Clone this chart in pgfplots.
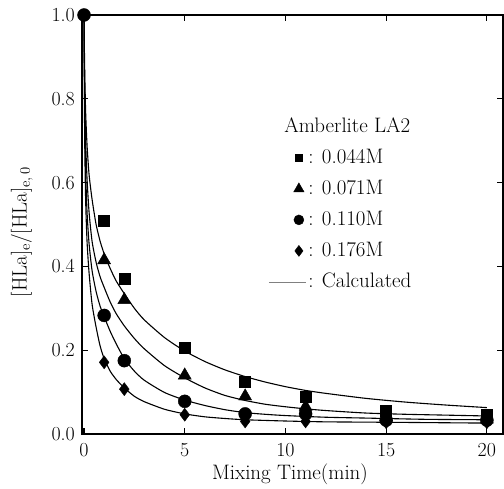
\documentclass[border=0pt]{standalone}
\usepackage{pgfplots}
\pgfplotsset{compat=1.18}
\pgfplotsset{
  markleg/.style={legend image code/.code={\draw[##1] plot coordinates {(0bp,0bp)};}},
  lineleg/.style={legend image code/.code={\draw[gray, line width=0.8bp] (-30bp,0bp) -- (7bp,0bp);}},
}

\pgfplotstableread{
t y
1 0.51
2 0.37
5 0.205
8 0.125
11 0.090
15 0.055
20 0.045
}\sqdata
\pgfplotstableread{
t y
1 0.415
2 0.320
5 0.140
8 0.090
11 0.065
15 0.040
20 0.035
}\tridata
\pgfplotstableread{
t y
0 1.0
1 0.283
2 0.175
5 0.078
8 0.048
11 0.048
15 0.033
20 0.033
}\circdata
\pgfplotstableread{
t y
1 0.171
2 0.107
5 0.046
8 0.030
11 0.030
15 0.028
20 0.028
}\diadata

\pgfplotstableread{
t y
0 1.0
0.03 0.88
0.08 0.77
0.15 0.69
0.25 0.62
0.4 0.56
0.6 0.50
0.8 0.46
1.0 0.43
1.3 0.395
1.6 0.365
2.0 0.335
2.5 0.30
3.0 0.272
4.0 0.23
5.0 0.198
6.0 0.173
7.0 0.153
8.0 0.137
9.0 0.124
10 0.113
11 0.104
12 0.097
14 0.085
16 0.076
18 0.069
20 0.063
}\curveA
\pgfplotstableread{
t y
0 1.0
0.03 0.83
0.08 0.70
0.15 0.61
0.25 0.53
0.4 0.46
0.6 0.41
0.8 0.375
1.0 0.35
1.3 0.315
1.6 0.287
2.0 0.258
2.5 0.228
3.0 0.203
4.0 0.163
5.0 0.134
6.0 0.110
7.0 0.092
8.0 0.080
9.0 0.071
10 0.065
11 0.060
12 0.056
14 0.050
16 0.047
18 0.045
20 0.043
}\curveB
\pgfplotstableread{
t y
0 1.0
0.03 0.78
0.08 0.63
0.15 0.53
0.25 0.455
0.4 0.39
0.6 0.34
0.8 0.305
1.0 0.28
1.3 0.245
1.6 0.215
2.0 0.18
2.5 0.15
3.0 0.128
4.0 0.099
5.0 0.081
6.0 0.068
7.0 0.058
8.0 0.051
9.0 0.047
10 0.044
12 0.040
14 0.038
17 0.035
20 0.034
}\curveC
\pgfplotstableread{
t y
0 1.0
0.03 0.72
0.08 0.56
0.15 0.46
0.25 0.385
0.4 0.31
0.6 0.255
0.8 0.21
1.0 0.18
1.3 0.15
1.6 0.13
2.0 0.11
2.5 0.09
3.0 0.077
4.0 0.059
5.0 0.048
6.0 0.041
7.0 0.037
8.0 0.034
10 0.031
12 0.029
15 0.028
20 0.026
}\curveD

\begin{document}
\fontsize{21}{25}\selectfont
\begin{tikzpicture}
\path[use as bounding box] (-82bp,-55bp) rectangle (422bp,434bp);
\begin{axis}[
  scale only axis, width=421bp, height=419bp,
  xmin=-0.1, xmax=20.8, ymin=0, ymax=1.0,
  axis line style={line width=1.3bp},
  every tick/.style={black, line width=1.2bp},
  tick align=inside, major tick length=6bp,
  xtick={0,5,10,15,20}, ytick={0,0.2,0.4,0.6,0.8,1.0},
  /pgf/number format/assume math mode=true,
  yticklabel style={/pgf/number format/.cd, fixed, fixed zerofill, precision=1},
  tick label style={font=\fontsize{20}{24}\selectfont},
  xticklabel style={yshift=-2bp},
  label style={font=\fontsize{21}{25}\selectfont},
  xlabel={Mixing Time(min)},
  xlabel style={at={(axis description cs:0.494,-0.097)}, anchor=center},
  ylabel={[HLa]\textsubscript{e}/[HLa]\textsubscript{e,\,0}},
  ylabel style={at={(axis description cs:-0.143,0.482)}, anchor=center, rotate=0},
  legend cell align=left,
  legend style={draw=none, fill=none, at={(axis cs:9,0.765)}, anchor=north west,
    font=\fontsize{21}{25}\selectfont, row sep=9.6bp},
]
\addlegendimage{empty legend}
\addlegendentry{\hspace*{-24bp}Amberlite LA2}
\addlegendimage{black, only marks, mark=square*, mark size=3.8bp, markleg}
\addlegendentry{: 0.044M}
\addlegendimage{black, only marks, mark=triangle*, mark size=6bp, markleg}
\addlegendentry{: 0.071M}
\addlegendimage{black, only marks, mark=*, mark size=5bp, markleg}
\addlegendentry{: 0.110M}
\addlegendimage{black, only marks, mark=diamond*, mark size=5.5bp, markleg}
\addlegendentry{: 0.176M}
\addlegendimage{lineleg}
\addlegendentry{: Calculated}

\addplot[forget plot, black, line width=1.1bp, smooth, tension=0.4] table[x=t,y=y] {\curveA};
\addplot[forget plot, black, line width=1.1bp, smooth, tension=0.4] table[x=t,y=y] {\curveB};
\addplot[forget plot, black, line width=1.1bp, smooth, tension=0.4] table[x=t,y=y] {\curveC};
\addplot[forget plot, black, line width=1.1bp, smooth, tension=0.4] table[x=t,y=y] {\curveD};

\addplot[forget plot, black, only marks, mark=square*, mark size=5.5bp] table[x=t,y=y] {\sqdata};
\addplot[forget plot, black, only marks, mark=triangle*, mark size=7.5bp] table[x=t,y=y] {\tridata};
\addplot[forget plot, black, only marks, mark=*, mark size=6.5bp] table[x=t,y=y] {\circdata};
\addplot[forget plot, black, only marks, mark=diamond*, mark size=6.5bp] table[x=t,y=y] {\diadata};
\end{axis}
\end{tikzpicture}
\end{document}
